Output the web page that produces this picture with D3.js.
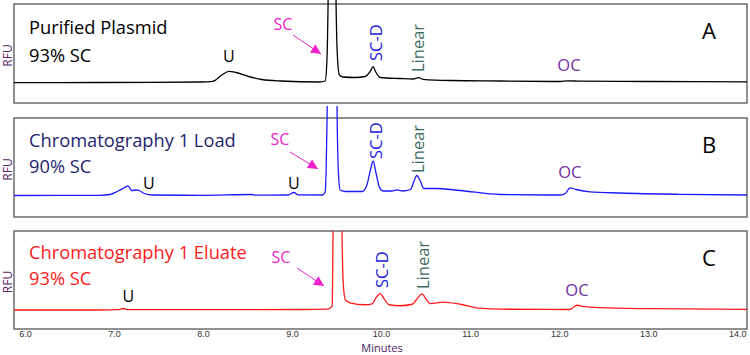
<!DOCTYPE html>
<html><head><meta charset="utf-8">
<script src="https://cdn.jsdelivr.net/npm/d3@7"></script>
<style>
body{margin:0;background:#fff;}
svg{display:block;font-family:"Open Sans","Noto Sans",sans-serif;}
</style></head>
<body><svg id="c" width="750" height="355"></svg>
<script>
// ---- data ----
const xTicks = [6,7,8,9,10,11,12,13,14];
const xDomain = [5.876, 14.11];

const timeA = [5.876,6.84,7.97,8.11,8.21,8.29,8.37,8.51,8.66,8.87,9.31,9.371,9.39,9.404,9.42,9.449,9.478,9.494,9.51,9.531,9.57,9.71,9.82,9.88,9.91,9.94,9.99,10.21,10.36,10.42,10.47,10.78,11.34,12.01,12.09,12.24,13.02,14.11];
const valA  = [20.3,20.5,21,21.7,28,31.7,30.5,26.5,23.5,22,21,22,40,99,250,400,250,99,45,28,26,25.5,26.5,32,36.3,31,25.5,24.5,24,25.3,23.7,22.5,22,21.5,22.2,21.8,21.5,21.2];

const timeB = [5.876,6.84,6.955,7.045,7.11,7.157,7.20,7.25,7.28,7.34,7.43,7.97,8.55,8.58,8.955,9.02,9.07,9.34,9.371,9.383,9.393,9.41,9.449,9.49,9.506,9.52,9.54,9.60,9.79,9.84,9.88,9.91,9.94,9.98,10.02,10.12,10.18,10.24,10.33,10.37,10.40,10.44,10.48,10.61,10.89,11.34,12.01,12.07,12.12,12.19,12.35,12.69,13.36,14.11];
const valB  = [21.5,21.7,22.5,26,29,31.2,26.5,27,26.5,23.5,22,21.7,22.5,21.8,22,24.5,22.2,22,25,50,99,250,400,250,99,45,27,25.5,25.5,32,47,56,45,30,26,26,27.2,26,27.5,36,41.5,36,28.5,28.5,26.5,22.5,22,23.5,29.2,27.5,25.2,24,22.7,22];

const timeC = [5.876,6.84,7.045,7.10,7.157,7.97,9.09,9.40,9.45,9.455,9.46,9.48,9.51,9.54,9.56,9.575,9.60,9.65,9.82,9.90,9.945,9.99,10.03,10.09,10.21,10.35,10.40,10.46,10.51,10.55,10.70,10.89,11.11,11.34,12.12,12.16,12.20,12.29,12.46,13.02,14.11];
const valC  = [19.2,19.2,19.5,20.7,19.5,19.5,19.7,20,23,50,99,250,400,250,99,45,29,26.5,24.5,25.5,32,35.7,31,24.5,23.5,25,30,35.5,29.5,25.7,27.2,25,21,20,19.7,22,24,22.5,21.5,20.5,19.8];

const panelNames = ["Purified Plasmid","Chromatography 1 Load","Chromatography 1 Eluate"];
const panelPct = ["93% SC","90% SC","93% SC"];
const panelLetters = ["A","B","C"];
const uTimes = [[8.29],[7.39,9.02],[7.16]];
const scdTimes = [9.92,9.92,9.99];
const linTimes = [10.41,10.41,10.47];
const ocTimes = [12.11,12.12,12.2];

// ---- layout ----
const svg = d3.select("#c");
const panels = [
  {top:4, bottom:103, clipTop:-20, color:"#000000", titleColor:"#000000", t:timeA, v:valA,
   t1:34, t2:62, uY:62, sc:[283,30], ar:[293,35,321,54], scd:61, lin:72, oc:71},
  {top:118, bottom:217, clipTop:106, color:"#1a1aff", titleColor:"#1f1f6e", t:timeB, v:valB,
   t1:146.7, t2:172.7, uY:188.5, sc:[280,145], ar:[290,152,318,169], scd:159, lin:173, oc:178},
  {top:231, bottom:329, clipTop:231, color:"#ff1a1a", titleColor:"#ff1a1a", t:timeC, v:valC,
   t1:259, t2:284.5, uY:302, sc:[281,262.7], ar:[297,268,324,286], scd:288, lin:289, oc:296}
];
const x = d3.scaleLinear().domain(xDomain).range([14,747]);

const defs = svg.append("defs");
defs.append("marker")
  .attr("id","ah").attr("viewBox","0 0 10 10").attr("refX",10).attr("refY",5)
  .attr("markerWidth",11).attr("markerHeight",10).attr("markerUnits","userSpaceOnUse")
  .attr("orient","auto")
  .append("path").attr("d","M0,0L10,5L0,10Z").attr("fill","#ee22cc");

panels.forEach((p,i)=>{
  const y = d3.scaleLinear().domain([0,99]).range([p.bottom,p.top]);
  const g = svg.append("g");
  const cid = "clip"+i;
  defs.append("clipPath").attr("id",cid)
    .append("rect").attr("x",14).attr("y",p.clipTop).attr("width",733).attr("height",p.bottom-p.clipTop);
  g.append("rect").attr("x",14).attr("y",p.top).attr("width",733).attr("height",p.bottom-p.top)
    .attr("fill","none").attr("stroke","#555").attr("stroke-width",1.3);
  const pts = p.t.map((t,k)=>[t,p.v[k]]);
  const line = d3.line().x(d=>x(d[0])).y(d=>y(d[1])).curve(d3.curveMonotoneX);
  g.append("path").datum(pts).attr("d",line).attr("fill","none")
    .attr("stroke",p.color).attr("stroke-width",1.3).attr("clip-path",`url(#${cid})`);

  g.append("text").attr("transform",`translate(12,${(p.top+p.bottom)/2+2}) rotate(-90)`)
    .attr("text-anchor","middle").attr("font-size",12).attr("fill","#5a2466").text("RFU");
  g.append("text").attr("x",29).attr("y",p.t1).attr("font-size",18.3).attr("fill",p.titleColor).text(panelNames[i]);
  g.append("text").attr("x",29).attr("y",p.t2).attr("font-size",18.3).attr("fill",p.titleColor).text(panelPct[i]);
  g.append("text").attr("x",709).attr("y",p.top+35).attr("text-anchor","middle").attr("font-size",22).attr("fill","#000").text(panelLetters[i]);
  uTimes[i].forEach(t=>{
    g.append("text").attr("x",x(t)).attr("y",p.uY).attr("text-anchor","middle")
      .attr("font-size",16).attr("fill","#000").text("U");
  });
  g.append("text").attr("x",p.sc[0]).attr("y",p.sc[1]).attr("text-anchor","middle").attr("font-size",16).attr("fill","#ee22cc").text("SC");
  g.append("line").attr("x1",p.ar[0]).attr("y1",p.ar[1]).attr("x2",p.ar[2]).attr("y2",p.ar[3])
    .attr("stroke","#ee22cc").attr("stroke-width",1).attr("marker-end","url(#ah)");
  g.append("text").attr("transform",`translate(${x(scdTimes[i])+7.5},${p.scd}) rotate(-90)`)
    .attr("font-size",16.5).attr("fill","#2222dd").text("SC-D");
  g.append("text").attr("transform",`translate(${x(linTimes[i])+6.5},${p.lin}) rotate(-90)`)
    .attr("font-size",16.5).attr("fill","#3a6b62").text("Linear");
  g.append("text").attr("x",x(ocTimes[i])).attr("y",p.oc).attr("text-anchor","middle")
    .attr("font-size",16.5).attr("fill","#7030a0").text("OC");
});

const ax = svg.append("g").attr("transform","translate(0,329)")
  .call(d3.axisBottom(x).tickValues(xTicks).tickFormat(d3.format(".1f")).tickSize(0).tickPadding(2));
ax.select(".domain").remove();
ax.selectAll("text").attr("font-size",9).attr("fill","#333").attr("font-family","'Liberation Sans',Arial,sans-serif");
svg.append("text").attr("x",382).attr("y",351.5).attr("text-anchor","middle").attr("font-size",11).attr("fill","#4a2060").text("Minutes");
</script></body></html>
